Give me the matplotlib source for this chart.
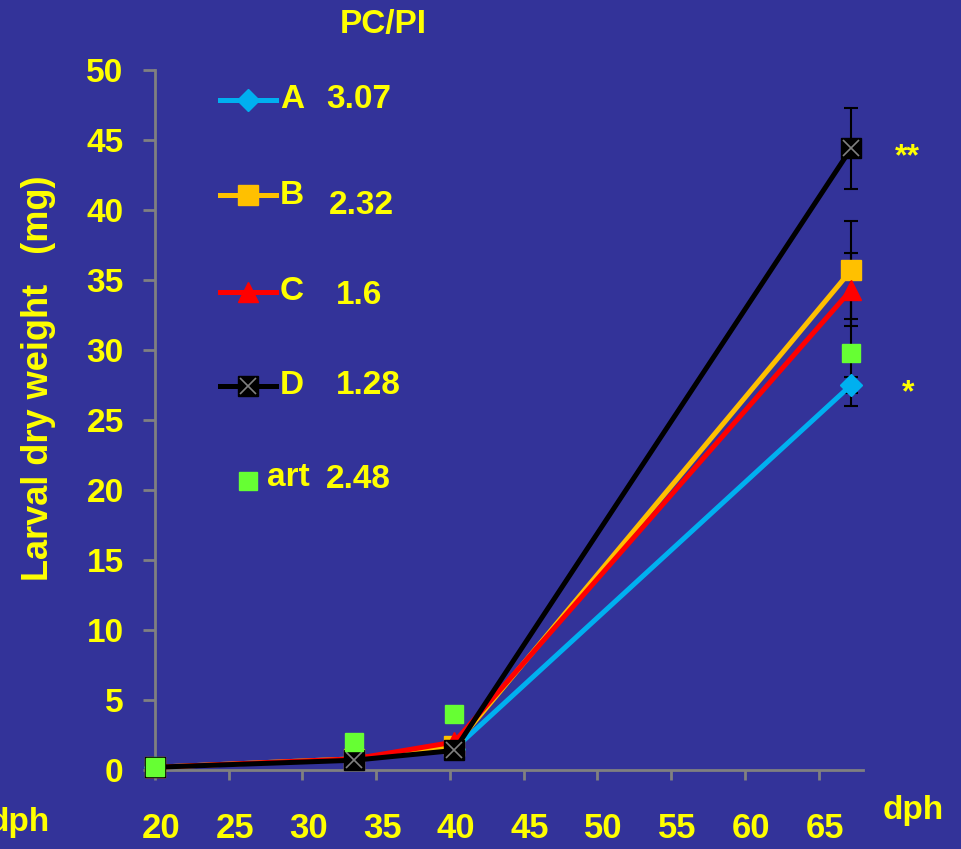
import matplotlib.pyplot as plt
from matplotlib.lines import Line2D
from matplotlib.transforms import ScaledTranslation

plt.rcParams['font.family'] = ['Liberation Sans', 'DejaVu Sans']
plt.rcParams['font.weight'] = 'bold'

BG = '#333399'
YEL = '#FFFF00'
FS = 24

days = [20, 33.5, 40.3, 67.2]
weight_a = [0.2, 0.8, 1.5, 27.5]
weight_b = [0.2, 0.8, 1.7, 35.7]
weight_c = [0.2, 0.8, 2.0, 34.3]
weight_d = [0.2, 0.7, 1.4, 44.4]
weight_art = [0.2, 2.0, 4.0, 29.8]
err_a = [0, 0, 0, 0.6]
err_b = [0, 0, 0, 3.5]
err_c = [0, 0, 0, 2.6]
err_d = [0, 0, 0.3, 2.9]
err_art = [0, 0, 0, 3.8]

groups = ['A', 'B', 'C', 'D', 'art']
pcpi = ['3.07', '2.32', '1.6', '1.28', '2.48']

fig = plt.figure(figsize=(9.62, 8.49), dpi=100, facecolor=BG)
ax = fig.add_axes([0.161, 0.093, 0.736, 0.8245], facecolor=BG)

# error bars first (black, behind markers)
for y, e in [(weight_art, err_art), (weight_a, err_a), (weight_b, err_b),
             (weight_c, err_c), (weight_d, err_d)]:
    ax.errorbar(days, y, yerr=e, fmt='none', ecolor='black', elinewidth=1.5,
                capsize=5, capthick=1.5, zorder=2)

styles = [dict(color='#00B0F0', marker='D', ms=11),
          dict(color='#FFC000', marker='s', ms=14),
          dict(color='#FF0000', marker='^', ms=14),
          dict(color='black', marker='s', ms=14)]
series = [weight_a, weight_b, weight_c, weight_d]
for i, y in enumerate(series):
    ax.plot(days, y, lw=3.6, zorder=4 + i, clip_on=False, **styles[i])
ax.plot(days, weight_d, ls='none', marker='x', ms=12, mew=1.2, color='#808080',
        zorder=8, clip_on=False)
ax.plot(days, weight_art, ls='none', marker='s', ms=13.5, color='#66FF33',
        zorder=9, clip_on=False)

ax.set_xlim(20, 68)
ax.set_ylim(0, 50)
ax.set_xticks(range(20, 66, 5))
ax.set_yticks(range(0, 51, 5))
for s in ['top', 'right']:
    ax.spines[s].set_visible(False)
for s in ['left', 'bottom']:
    ax.spines[s].set_color('#808080')
    ax.spines[s].set_linewidth(2)
ax.tick_params(axis='both', colors='#808080', width=2, direction='out',
               labelcolor=YEL, labelsize=FS)
ax.tick_params(axis='x', length=7, pad=23)
ax.tick_params(axis='y', length=8.5, pad=14)
shift = ScaledTranslation(6 / 100, 0, fig.dpi_scale_trans)
for lab in ax.get_xticklabels():
    lab.set_fontweight('bold')
    lab.set_fontsize(25)
    lab.set_transform(lab.get_transform() + shift)
for lab in ax.get_yticklabels():
    lab.set_fontweight('bold')

fig.text(39 / 962, 1 - 378 / 849, 'Larval dry weight   (mg)', color=YEL, fontsize=26,
         fontweight='bold', rotation=90, ha='center', va='center')

fig.text(50 / 962, 1 - 822 / 849, 'dph', color=YEL, fontsize=FS, fontweight='bold', ha='right', va='center')
fig.text(913 / 962, 1 - 810 / 849, 'dph', color=YEL, fontsize=FS, fontweight='bold', ha='center', va='center')
fig.text(383 / 962, 1 - 24 / 849, 'PC/PI', color=YEL, fontsize=24, fontweight='bold', ha='center', va='center')

ax.text(67.2 + 3.8, 43.8, '**', color=YEL, fontsize=23, ha='center', va='center')
ax.text(67.2 + 3.9, 26.9, '*', color=YEL, fontsize=23, ha='center', va='center')

# hand-made legend
W, H = 962, 849
leg_y = [100, 195, 292, 386, 481]
leg_num_x = [326, 329, 336, 336, 326]
leg_num_dy = [0, 10, 4, 0, 0]
for i in range(4):
    yy = 1 - leg_y[i] / H
    fig.add_artist(Line2D([220 / W, 248 / W, 276 / W], [yy, yy, yy], lw=3.6,
                          markevery=[1], **styles[i]))
    if i == 3:
        fig.add_artist(Line2D([248 / W], [yy], ls='none', marker='x', ms=12,
                              mew=1.2, color='#808080'))
    fig.text(280 / W, yy, groups[i], color=YEL, fontsize=FS, fontweight='bold', va='center')
    fig.text(leg_num_x[i] / W, 1 - (leg_y[i] + leg_num_dy[i]) / H, pcpi[i], color=YEL,
             fontsize=FS, fontweight='bold', va='center')
yy = 1 - leg_y[4] / H
fig.add_artist(Line2D([248 / W], [yy], ls='none', marker='s', ms=13.5, color='#66FF33'))
fig.text(267 / W, 1 - 477 / H, groups[4], color=YEL, fontsize=FS, fontweight='bold', va='center')
fig.text(leg_num_x[4] / W, 1 - 479 / H, pcpi[4], color=YEL, fontsize=FS, fontweight='bold', va='center')

fig.savefig('out.png', dpi=100, facecolor=BG)
